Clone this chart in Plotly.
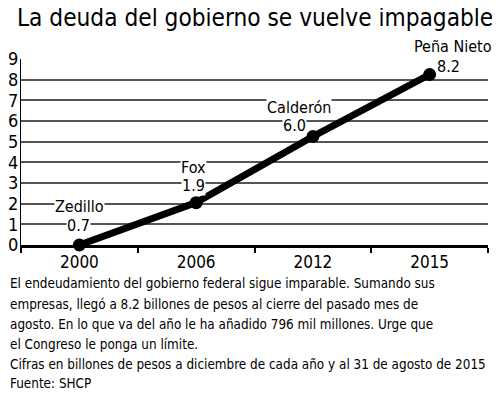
import plotly.graph_objects as go

years = ["2000", "2006", "2012", "2015"]
drawn_values = [0.0, 2.05, 5.25, 8.25]
label_values = ["0.7", "1.9", "6.0", "8.2"]
presidents = ["Zedillo", "Fox", "Calderón", "Peña Nieto"]
y_ticks = list(range(0, 10))

title_text = "La deuda del gobierno se vuelve impagable"
body_lines = [
    "El endeudamiento del gobierno federal sigue imparable. Sumando sus",
    "empresas, llegó a 8.2 billones de pesos al cierre del pasado mes de",
    "agosto. En lo que va del año le ha añadido 796 mil millones. Urge que",
    "el Congreso le ponga un límite.",
    "Cifras en billones de pesos a diciembre de cada año y al 31 de agosto de 2015",
    "Fuente: SHCP",
]

FONT = "DejaVu Sans Condensed, Roboto Condensed, Liberation Sans Narrow, Roboto, sans-serif"
W, H = 500, 393
OFF = 8  # page body margin offset
L, R, T, B = 21 - OFF, 12 + OFF, 59 - OFF, 148 + OFF
plot_w = W - L - R
plot_h = H - T - B

fig = go.Figure()
fig.add_trace(go.Scatter(
    x=years, y=drawn_values, mode="lines+markers",
    line=dict(color="black", width=7),
    marker=dict(color="black", size=13),
    cliponaxis=False, hoverinfo="skip", showlegend=False,
))

# label offsets (pixels) relative to each point: name and value
name_shift = [(0, 39), (-3, 35), (-14, 29), (23, 28)]
val_shift = [(-1, 20), (-3, 17), (-18, 11), (19, 8)]
annotations = []
for i, yr in enumerate(years):
    annotations.append(dict(x=i, y=drawn_values[i], text=presidents[i],
                            xshift=name_shift[i][0], yshift=name_shift[i][1],
                            showarrow=False, bgcolor="white", borderpad=0,
                            font=dict(family=FONT, size=16, color="black")))
    annotations.append(dict(x=i, y=drawn_values[i], text=label_values[i],
                            xshift=val_shift[i][0], yshift=val_shift[i][1],
                            showarrow=False, bgcolor="white", borderpad=0,
                            font=dict(family=FONT, size=16, color="black")))


def px_x(px):
    return (px - OFF - L) / plot_w


def px_y(py):
    return (H - B - (py - OFF)) / plot_h


# title
annotations.append(dict(xref="paper", yref="paper", x=px_x(254.5), y=px_y(18.5),
                        text=title_text, showarrow=False,
                        xanchor="center", yanchor="middle",
                        font=dict(family=FONT, size=24.2, color="black")))

line_y = [283, 304, 324, 344, 364, 383]
for ly, txt in zip(line_y, body_lines):
    annotations.append(dict(xref="paper", yref="paper", x=px_x(8), y=px_y(ly),
                            text=txt, showarrow=False,
                            xanchor="left", yanchor="middle",
                            font=dict(family=FONT, size=13.4, color="black")))

fig.update_layout(
    width=W, height=H,
    margin=dict(l=L, r=R, t=T, b=B, autoexpand=False),
    paper_bgcolor="white", plot_bgcolor="white",
    annotations=annotations,
    xaxis=dict(type="category", range=[-0.5, 3.5], showgrid=False, automargin=False,
               showline=True, linecolor="black", linewidth=3,
               ticks="outside", tickson="boundaries", ticklen=5, tickwidth=2,
               tickcolor="black",
               tickfont=dict(family=FONT, size=17, color="black"), zeroline=False),
    yaxis=dict(range=[0, 9], tickvals=y_ticks, showgrid=True, automargin=False,
               gridcolor="#555555", gridwidth=1.5, showline=True,
               linecolor="black", linewidth=1, zeroline=False,
               ticks="", ticklabelstandoff=-2,
               tickfont=dict(family=FONT, size=18, color="black")),
)

fig.write_html("out.html")
